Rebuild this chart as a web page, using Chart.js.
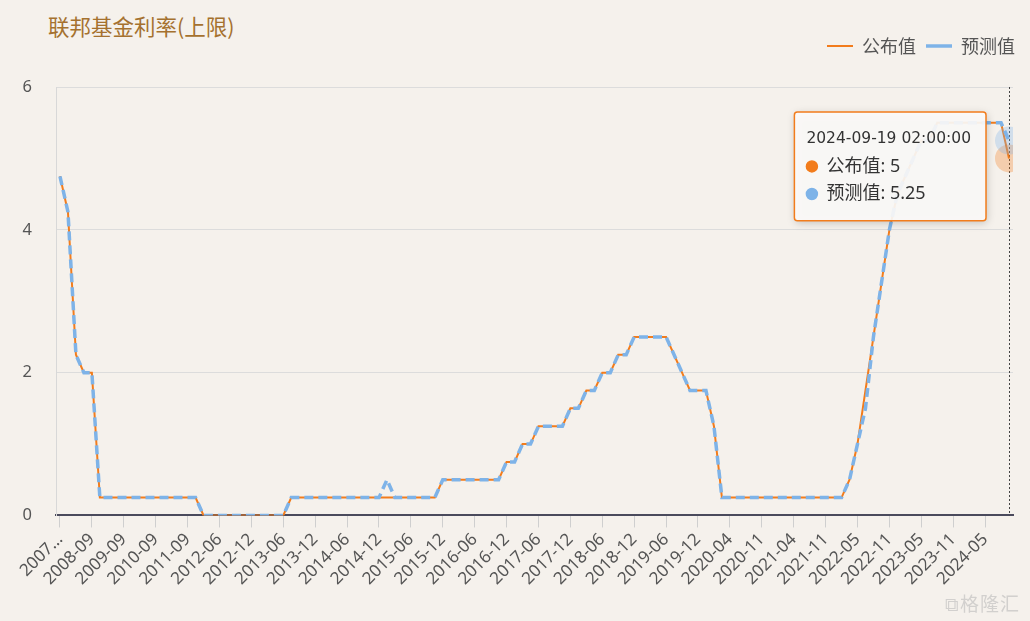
<!DOCTYPE html>
<html>
<head>
<meta charset="utf-8">
<script src="https://cdn.jsdelivr.net/npm/chart.js@4.4.1/dist/chart.umd.min.js"></script>
<style>
    html, body { margin: 0; padding: 0; background: #fbfaf8; }
    #wrap { position: relative; width: 1030px; height: 621px; background: #f5f1ec; overflow: hidden; }
    #title { position: absolute; left: 48px; top: 10px; font: 21.5px 'Noto Sans CJK SC', 'Noto Sans', sans-serif; color: #a5712f; }
    #mark { position: absolute; right: 10px; bottom: 5px; font: 19px 'Noto Sans CJK SC', sans-serif; color: #d2d0ce; letter-spacing: 1px; }
    canvas { position: absolute; left: 0; top: 0; }
</style>
</head>
<body>
<div id="wrap">
    <div id="title">联邦基金利率(上限)</div>
    <canvas id="rateChart" width="1030" height="621"></canvas>
    <div id="mark">⧉格隆汇</div>
</div>
<script>
// FOMC decision months shown on the x axis
const months = [
    '2007-09', '2007-12', '2008-03', '2008-04', '2008-09', '2008-12', '2009-03', '2009-06', '2009-09', '2009-12',
    '2010-03', '2010-06', '2010-09', '2010-12', '2011-03', '2011-06', '2011-09', '2011-11', '2012-01', '2012-04',
    '2012-06', '2012-08', '2012-09', '2012-10', '2012-12', '2013-01', '2013-03', '2013-05', '2013-06', '2013-07',
    '2013-09', '2013-10', '2013-12', '2014-01', '2014-03', '2014-04', '2014-06', '2014-07', '2014-09', '2014-10',
    '2014-12', '2015-01', '2015-03', '2015-04', '2015-06', '2015-07', '2015-09', '2015-10', '2015-12', '2016-01',
    '2016-03', '2016-04', '2016-06', '2016-07', '2016-09', '2016-11', '2016-12', '2017-02', '2017-03', '2017-05',
    '2017-06', '2017-07', '2017-09', '2017-11', '2017-12', '2018-01', '2018-03', '2018-05', '2018-06', '2018-08',
    '2018-09', '2018-11', '2018-12', '2019-01', '2019-03', '2019-05', '2019-06', '2019-07', '2019-09', '2019-10',
    '2019-12', '2020-01', '2020-03', '2020-03', '2020-04', '2020-06', '2020-07', '2020-09', '2020-11', '2020-12',
    '2021-01', '2021-03', '2021-04', '2021-06', '2021-07', '2021-09', '2021-11', '2021-12', '2022-01', '2022-03',
    '2022-05', '2022-06', '2022-07', '2022-09', '2022-11', '2022-12', '2023-02', '2023-03', '2023-05', '2023-06',
    '2023-07', '2023-09', '2023-11', '2023-12', '2024-01', '2024-03', '2024-05', '2024-06', '2024-07', '2024-09'
];

// 公布值 (actual upper bound, %)
const actual = [
    4.75, 4.25, 2.25, 2, 2, 0.25, 0.25, 0.25, 0.25, 0.25,
    0.25, 0.25, 0.25, 0.25, 0.25, 0.25, 0.25, 0.25, 0, 0,
    0, 0, 0, 0, 0, 0, 0, 0, 0, 0.25,
    0.25, 0.25, 0.25, 0.25, 0.25, 0.25, 0.25, 0.25, 0.25, 0.25,
    0.25, 0.25, 0.25, 0.25, 0.25, 0.25, 0.25, 0.25, 0.5, 0.5,
    0.5, 0.5, 0.5, 0.5, 0.5, 0.5, 0.75, 0.75, 1, 1,
    1.25, 1.25, 1.25, 1.25, 1.5, 1.5, 1.75, 1.75, 2, 2,
    2.25, 2.25, 2.5, 2.5, 2.5, 2.5, 2.5, 2.25, 2, 1.75,
    1.75, 1.75, 1.25, 0.25, 0.25, 0.25, 0.25, 0.25, 0.25, 0.25,
    0.25, 0.25, 0.25, 0.25, 0.25, 0.25, 0.25, 0.25, 0.25, 0.5,
    1, 1.75, 2.5, 3.25, 4, 4.5, 4.75, 5, 5.25, 5.25,
    5.5, 5.5, 5.5, 5.5, 5.5, 5.5, 5.5, 5.5, 5.5, 5
];

// 预测值 (consensus forecast, %)
const forecast = [
    4.75, 4.25, 2.25, 2, 2, 0.25, 0.25, 0.25, 0.25, 0.25,
    0.25, 0.25, 0.25, 0.25, 0.25, 0.25, 0.25, 0.25, 0, 0,
    0, 0, 0, 0, 0, 0, 0, 0, 0, 0.25,
    0.25, 0.25, 0.25, 0.25, 0.25, 0.25, 0.25, 0.25, 0.25, 0.25,
    0.25, 0.5, 0.25, 0.25, 0.25, 0.25, 0.25, 0.25, 0.5, 0.5,
    0.5, 0.5, 0.5, 0.5, 0.5, 0.5, 0.75, 0.75, 1, 1,
    1.25, 1.25, 1.25, 1.25, 1.5, 1.5, 1.75, 1.75, 2, 2,
    2.25, 2.25, 2.5, 2.5, 2.5, 2.5, 2.5, 2.25, 2, 1.75,
    1.75, 1.75, 1.25, 0.25, 0.25, 0.25, 0.25, 0.25, 0.25, 0.25,
    0.25, 0.25, 0.25, 0.25, 0.25, 0.25, 0.25, 0.25, 0.25, 0.5,
    1, 1.5, 2.5, 3.25, 4, 4.5, 4.75, 5, 5.25, 5.25,
    5.5, 5.5, 5.5, 5.5, 5.5, 5.5, 5.5, 5.5, 5.5, 5.25
];

const seriesNames = ['公布值', '预测值'];
const latestRelease = '2024-09-19 02:00:00';
const orange = '#f27c1c';
const blue = '#7eb3e8';

const lastIndex = months.length - 1;
const toPoints = values => values.map((v, i) => ({ x: i, y: v }));

// fixed tooltip spot, to the left of the hovered point
Chart.Tooltip.positioners.leftOfPoint = function (items) {
    if (!items.length) return false;
    return { x: items[0].element.x - 26, y: this.chart.chartArea.top + 25 };
};

// extra room under the legend
const legendGap = {
    id: 'legendGap',
    beforeInit(chart) {
        const fit = chart.legend.fit;
        chart.legend.fit = function () {
            fit.call(this);
            this.height += 22;
        };
    }
};

// dotted axis pointer at the hovered category
const axisPointer = {
    id: 'axisPointer',
    beforeDatasetsDraw(chart) {
        const x = chart.scales.x.getPixelForValue(lastIndex);
        const { top, bottom } = chart.chartArea;
        const ctx = chart.ctx;
        ctx.save();
        ctx.strokeStyle = '#444';
        ctx.lineWidth = 1;
        ctx.setLineDash([2, 2]);
        ctx.beginPath();
        ctx.moveTo(Math.round(x) + 0.5, top);
        ctx.lineTo(Math.round(x) + 0.5, bottom);
        ctx.stroke();
        ctx.restore();
    }
};

// soft shadow behind the tooltip box
const tooltipShadow = {
    id: 'tooltipShadow',
    beforeTooltipDraw(chart, args) {
        const tip = args.tooltip;
        if (!tip.opacity) return;
        const ctx = chart.ctx;
        ctx.save();
        ctx.shadowColor = 'rgba(0, 0, 0, 0.22)';
        ctx.shadowBlur = 8;
        ctx.shadowOffsetX = 1;
        ctx.shadowOffsetY = 2;
        ctx.fillStyle = 'rgba(252, 251, 250, 0.92)';
        ctx.beginPath();
        ctx.roundRect(tip.x, tip.y, tip.width, tip.height, 3);
        ctx.fill();
        ctx.restore();
    }
};

const cjk = "'Noto Sans CJK SC', 'Noto Sans', sans-serif";
const latin = "'Noto Sans', 'Noto Sans CJK SC', sans-serif";

const chart = new Chart(document.getElementById('rateChart').getContext('2d'), {
    type: 'line',
    data: {
        datasets: [{
            label: seriesNames[0],
            data: toPoints(actual),
            borderColor: orange,
            backgroundColor: orange,
            borderWidth: 2,
            pointRadius: 0,
            pointHoverRadius: 14,
            pointHoverBorderWidth: 0,
            pointHoverBackgroundColor: 'rgba(242, 124, 28, 0.3)',
            order: 1
        }, {
            label: seriesNames[1],
            data: toPoints(forecast),
            borderColor: blue,
            backgroundColor: blue,
            borderWidth: 3.5,
            borderDash: [9, 5],
            pointRadius: 0,
            pointHoverRadius: 14,
            pointHoverBorderWidth: 0,
            pointHoverBackgroundColor: 'rgba(126, 179, 232, 0.3)',
            order: 0
        }]
    },
    options: {
        responsive: false,
        animation: false,
        events: [],
        layout: {
            padding: { top: 27, left: 22, right: 5, bottom: 30 }
        },
        plugins: {
            legend: {
                position: 'top',
                align: 'end',
                labels: {
                    usePointStyle: true,
                    pointStyle: 'line',
                    pointStyleWidth: 26,
                    color: '#555',
                    font: { family: cjk, size: 18 },
                    padding: 10,
                    sort: (a, b) => a.datasetIndex - b.datasetIndex
                }
            },
            tooltip: {
                position: 'leftOfPoint',
                xAlign: 'right',
                yAlign: 'top',
                caretSize: 0,
                caretPadding: 0,
                cornerRadius: 3,
                backgroundColor: 'rgba(255, 255, 255, 0)',
                borderColor: orange,
                borderWidth: 1.5,
                titleColor: '#333',
                bodyColor: '#333',
                titleFont: { family: "'DejaVu Sans', sans-serif", size: 15.5, weight: 'normal' },
                bodyFont: { family: latin, size: 18 },
                titleMarginBottom: 7,
                bodySpacing: 6,
                padding: { top: 18, bottom: 16, left: 12, right: 15 },
                usePointStyle: true,
                boxWidth: 11,
                boxHeight: 11,
                boxPadding: 7,
                callbacks: {
                    title: items => items[0].dataIndex === lastIndex ? latestRelease : months[items[0].dataIndex],
                    label: item => item.dataset.label + ': ' + item.parsed.y,
                    labelColor: item => {
                        const c = item.datasetIndex === 0 ? orange : blue;
                        return { borderColor: c, backgroundColor: c };
                    }
                }
            }
        },
        scales: {
            x: {
                type: 'linear',
                min: -0.5,
                max: lastIndex + 0.5,
                afterBuildTicks: scale => {
                    scale.ticks = months.map((m, i) => i).filter(i => i % 4 === 0).map(i => ({ value: i }));
                },
                afterFit: scale => {
                    scale.paddingLeft = 0;
                    scale.paddingRight = 17;
                },
                ticks: {
                    autoSkip: false,
                    minRotation: 45,
                    maxRotation: 45,
                    color: '#555',
                    font: { family: latin, size: 17 },
                    padding: 2,
                    callback: value => value === 0 ? months[0].slice(0, 4) + '…' : months[value]
                },
                grid: { drawOnChartArea: false, drawTicks: true, tickLength: 12, color: '#cfcfcf' },
                border: { color: '#4a4a5c', width: 2 }
            },
            y: {
                min: 0,
                max: 6,
                afterFit: scale => {
                    scale.width = 34;
                },
                ticks: { stepSize: 2, color: '#555', font: { family: latin, size: 16.5 }, padding: 24 },
                grid: { color: '#dcdcdc', drawTicks: false },
                border: { color: '#d8d8d8' }
            }
        }
    },
    plugins: [legendGap, axisPointer, tooltipShadow]
});

const active = [{ datasetIndex: 0, index: lastIndex }, { datasetIndex: 1, index: lastIndex }];
chart.setActiveElements(active);
chart.tooltip.setActiveElements(active, { x: 0, y: 0 });
chart.update();
</script>
</body>
</html>
